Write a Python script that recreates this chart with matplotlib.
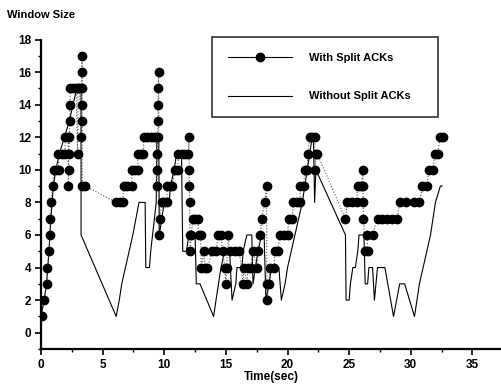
import matplotlib
matplotlib.use("Agg")
import matplotlib.pyplot as plt
from matplotlib.ticker import MultipleLocator

# ---- data ----
with_time = [0.05, 0.25, 0.45, 0.52, 0.65, 0.72, 0.77, 0.82, 0.95, 1.05, 1.25, 1.45,
             1.4, 1.7, 1.95, 1.95, 2.2, 2.22, 2.24, 2.26, 2.3, 2.32, 2.35, 2.38, 2.6, 2.85,
             2.97, 3.0, 3.1, 3.28, 3.29, 3.3, 3.31, 3.32, 3.33, 3.35, 3.6,
             6.1, 6.4, 6.65, 6.7, 7.0, 7.35, 7.4, 7.65, 7.85, 7.85, 8.1, 8.3, 8.35, 8.6, 8.9,
             9.2, 9.35, 9.4, 9.42, 9.44, 9.46, 9.48, 9.5, 9.52, 9.55, 9.57, 9.62, 9.8,
             10.0, 10.2, 10.25, 10.5, 10.6, 10.9, 11.1, 11.15, 11.4, 11.7, 11.95, 12.0,
             12.02, 12.04, 12.06, 12.08, 12.1, 12.2, 12.3, 12.5, 12.7, 12.8, 12.95, 13.0,
             13.2, 13.3, 13.5, 13.9, 14.2, 14.4, 14.6, 14.75, 14.9, 15.0, 15.05, 15.2,
             15.3, 15.7, 16.1, 16.4, 16.5, 16.7, 16.8, 17.0, 17.2, 17.5, 17.6, 17.8, 17.9,
             18.15, 18.3, 18.32, 18.35, 18.5, 18.6, 18.9, 18.95, 19.2, 19.4, 19.7, 20.0,
             20.1, 20.4, 20.45, 20.8, 21.0, 21.05, 21.3, 21.4, 21.6, 21.65, 21.8, 22.0,
             22.2, 22.25, 22.3, 22.4,
             24.7, 24.85, 25.2, 25.6, 25.7, 26.0, 26.1, 26.12, 26.14, 26.16, 26.3, 26.5,
             26.45, 26.9, 27.3, 27.7, 28.1, 28.5, 28.9, 29.1, 29.6, 30.3, 30.7, 30.95,
             31.3, 31.45, 31.8, 31.95, 32.2, 32.35, 32.6]
with_win = [1, 2, 3, 4, 5, 6, 7, 8, 9, 10, 10, 10,
            11, 11, 11, 12, 12, 9, 10, 11, 12, 13, 14, 15, 15, 15,
            11, 15, 15, 12, 13, 14, 15, 16, 17, 9, 9,
            8, 8, 8, 9, 9, 9, 10, 10, 10, 11, 11, 11, 12, 12, 12,
            12, 12, 9, 10, 11, 12, 13, 14, 15, 16, 6, 7, 8,
            8, 8, 9, 9, 9, 10, 10, 11, 11, 11, 11, 12,
            10, 9, 8, 6, 5, 6, 7, 7, 7, 6, 6, 4,
            5, 4, 4, 5, 5, 6, 6, 5, 4, 3, 4, 6,
            5, 5, 5, 3, 4, 3, 4, 4, 5, 4, 5, 6, 7,
            8, 9, 3, 2, 3, 4, 4, 5, 5, 6, 6, 6,
            7, 7, 8, 8, 8, 9, 9, 10, 10, 11, 12, 12,
            12, 10, 11, 11,
            7, 8, 8, 8, 9, 9, 10, 9, 8, 7, 5, 5,
            6, 6, 7, 7, 7, 7, 7, 8, 8, 8, 8, 9,
            9, 10, 10, 11, 11, 12, 12]

without_time = [0.0, 0.25, 0.45, 0.55, 0.65, 0.72, 0.8, 0.9, 1.0, 1.2, 1.5, 1.9, 2.3,
                2.6, 2.9, 3.25, 3.25, 6.1, 6.35, 6.55, 6.85, 7.15, 7.45, 7.7, 7.95,
                8.45, 8.5, 8.8, 8.9, 9.05, 9.2, 9.35, 9.4, 9.55, 9.6, 9.8, 10.0, 10.4,
                10.5, 10.8, 11.0, 11.4, 11.5, 11.8, 12.0, 12.5, 12.6, 12.9, 14.0, 14.2,
                14.4, 14.6, 14.9, 15.3, 15.5, 15.8, 15.9, 16.3, 16.4, 16.7, 17.1, 17.2,
                17.4, 17.6, 17.9, 18.1, 18.25, 18.5, 18.7, 19.3, 19.5, 19.8, 20.0, 20.3,
                20.6, 20.9, 21.2, 21.4, 21.6, 21.8, 22.0, 22.1, 22.2, 22.3, 24.7, 24.75,
                25.0, 25.1, 25.3, 25.5, 25.7, 25.8, 26.2, 26.3, 26.5, 26.6, 26.9, 27.05,
                27.3, 27.9, 28.6, 29.1, 29.5, 30.3, 30.5, 30.7, 31.0, 31.3, 31.6, 31.8,
                32.0, 32.4, 32.55]
without_win = [1, 2, 3, 4, 5, 6, 7, 8, 9, 10, 11, 12, 13,
               14, 15, 15, 6, 1, 2, 3, 4, 5, 6, 7, 8,
               8, 4, 4, 5, 6, 7, 8, 12, 12, 6, 7, 8, 8,
               9, 10, 11, 11, 5, 5, 6, 6, 3, 3, 1, 2,
               3, 4, 5, 5, 2, 3, 4, 4, 5, 6, 6, 3,
               4, 5, 6, 6, 2, 3, 4, 4, 2, 3, 4, 5,
               6, 7, 8, 9, 10, 11, 12, 12, 8, 10, 6, 2,
               2, 3, 4, 4, 5, 6, 6, 3, 3, 4, 4, 2,
               4, 4, 1, 3, 3, 1, 2, 3, 4, 5, 6, 7,
               8, 9, 9]

x_ticks = [0, 5, 10, 15, 20, 25, 30, 35]
y_ticks = [0, 2, 4, 6, 8, 10, 12, 14, 16, 18]
labels = ["With Split ACKs", "Without Split ACKs"]

plt.rcParams['font.family'] = ['Liberation Sans', 'DejaVu Sans']

fig = plt.figure(figsize=(5.02, 3.84), dpi=100)
ax = fig.add_axes([41 / 502, 35 / 384, 1 - 41 / 502, (349 - 39.5) / 384])

ax.plot(with_time, with_win, linestyle=':', color='#555555', linewidth=0.8,
        marker='o', markersize=6, markerfacecolor='black', markeredgecolor='black',
        label=labels[0], zorder=3)
ax.plot(without_time, without_win, linestyle='-', color='black', linewidth=0.8,
        label=labels[1], zorder=2)

ax.set_xlim(0, 37.4)
ax.set_ylim(-1, 18)
ax.set_xticks(x_ticks)
ax.set_yticks(y_ticks)
ax.xaxis.set_minor_locator(MultipleLocator(2.5))
ax.yaxis.set_minor_locator(MultipleLocator(1))
ax.spines['top'].set_visible(False)
ax.spines['right'].set_visible(False)
ax.spines['left'].set_linewidth(1.6)
ax.spines['bottom'].set_linewidth(1.6)
ax.tick_params(axis='both', which='major', direction='out', length=4, width=1.2,
               labelsize=8.5, pad=3)
ax.tick_params(axis='both', which='minor', direction='out', length=2.5, width=1.0)
for lbl in ax.get_xticklabels() + ax.get_yticklabels():
    lbl.set_fontweight('bold')

ax.set_xlabel("Time(sec)", fontsize=8.5, fontweight='bold', labelpad=0.5)
fig.text(7 / 502, 1 - 15 / 384, "Window Size", fontsize=8, fontweight='bold',
         va='center', ha='left')

leg = ax.legend(loc='upper left',
                bbox_to_anchor=(212 / 502, 1 - 120 / 384, 226 / 502, 83 / 384),
                bbox_transform=fig.transFigure, mode='expand', frameon=True,
                fancybox=False, edgecolor='black', fontsize=8, handlelength=5.8,
                handletextpad=1.5, labelspacing=2.6, borderpad=1.4, borderaxespad=0)
leg.get_frame().set_linewidth(1.2)
for t in leg.get_texts():
    t.set_fontweight('bold')
leg.get_lines()[0].set_linestyle('-')
leg.get_lines()[0].set_color('black')

fig.savefig("out.png", dpi=100)
